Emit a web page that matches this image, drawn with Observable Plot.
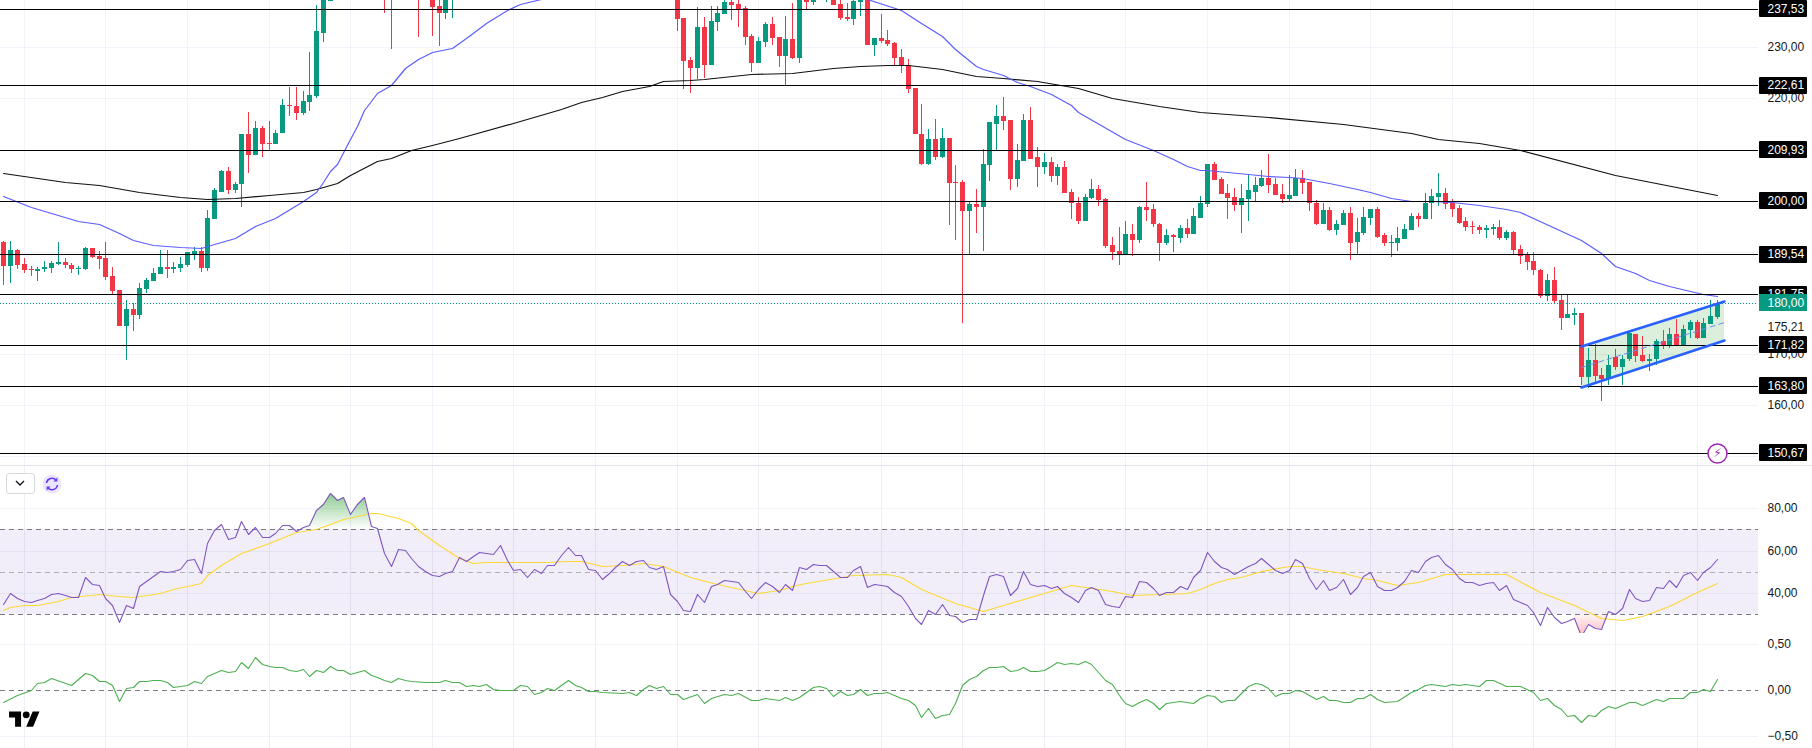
<!DOCTYPE html>
<html><head><meta charset="utf-8">
<style>
html,body{margin:0;padding:0;background:#fff;overflow:hidden}
#chart{position:relative;width:1812px;height:748px;overflow:hidden;background:#fff}
#chart svg.plot-svg,#chart>div>svg{display:block}
.overlay{position:absolute}
</style>
<script src="https://cdn.jsdelivr.net/npm/d3@7"></script>
<script src="https://cdn.jsdelivr.net/npm/@observablehq/plot@0.6"></script>
</head><body><div id="chart"></div>
<script>
// bar numbers that show in the window (the rest lie above the visible price range)
const barsA = d3.range(0,49), barsB = [56,57,58,61,63,64,65,66], barsC = d3.range(99,253);
const barIndex = [...barsA,...barsB,...barsC];

const open = [
192.0,187.2,190.3,187.7,186.6,186.2,186.6,186.9,187.7,188.1,
187.5,186.6,186.6,190.7,189.1,188.7,185.2,182.6,175.5,178.9,
177.6,182.8,184.2,185.6,187.1,186.7,186.9,187.5,189.5,190.1,
186.9,196.5,201.8,205.9,202.0,203.2,213.0,209.0,214.3,211.2,
211.0,213.2,218.8,218.6,217.1,219.4,220.4,232.9,239.0,
241,241,240,241,241,238.0,236.8,240,
240.0,235.8,227.6,225.9,233.9,226.5,234.9,236.6,238.8,238.4,
237.6,232.3,227.0,231.1,234.5,232.1,228.4,231.7,228.0,239.6,
238.8,240.0,239.6,240.2,238.4,236.0,235.6,238.8,240.0,230.4,
231.9,231.5,230.8,228.2,226.5,222.0,213.1,207.1,212.0,208.6,
212.2,203.6,203.6,197.9,199.3,198.7,206.9,215.1,216.5,215.7,
204.2,207.7,215.7,208.5,206.5,207.5,204.9,206.5,201.8,199.6,
196.1,200.6,202.2,200.4,191.4,190.1,189.5,193.4,192.4,198.7,
198.3,195.5,191.8,193.2,192.8,194.6,193.4,196.7,199.3,207.1,
204.2,201.6,200.8,199.1,200.4,201.8,202.8,204.5,203.2,201.4,
200.4,201.0,204.5,203.6,199.6,195.5,198.1,194.2,195.2,197.5,
192.0,193.6,196.7,198.3,193.2,191.8,191.8,192.6,194.2,197.1,
196.5,199.5,200.8,201.6,199.5,198.5,196.0,195.0,194.8,194.2,
194.4,194.8,192.8,193.8,190.5,189.3,188.3,186.4,181.3,184.4,
180.5,177.0,177.6,178.1,165.6,168.8,166.0,165.2,169.5,167.4,
169.0,174.0,169.9,168.6,169.0,172.5,171.7,174.0,171.5,174.8,
176.2,173.2,175.8,177.2];
const high = [
192.2,192.2,190.5,188.8,187.2,187.0,188.2,188.2,192.0,188.7,
187.9,187.2,191.0,190.8,190.1,192.0,187.1,182.6,180.5,180.0,
184.0,184.8,186.9,190.3,190.3,188.1,188.9,189.9,190.9,190.9,
198.1,202.4,206.1,206.5,203.6,213.1,217.3,215.5,214.7,215.5,
213.9,219.8,222.2,222.2,221.4,229.0,238.2,239.4,240.5,
241.5,241.5,241,241.5,241.5,240.5,241,241,
240.5,235.8,228.2,237.8,236.0,238.0,238.0,239.4,239.4,239.4,
238.0,232.7,232.1,234.9,236.0,232.1,236.2,238.6,240.5,240.0,
240.5,240.5,240.5,240.5,239.4,238.6,239.2,240.0,240.5,231.9,
236.6,233.3,231.1,229.6,227.8,222.0,219.0,214.1,215.9,214.3,
212.2,206.9,204.0,200.0,202.2,210.2,215.3,218.8,220.2,215.7,
211.0,216.9,218.4,210.6,209.4,208.5,207.1,207.7,202.2,200.8,
201.4,204.2,203.0,200.6,193.0,194.8,196.0,195.5,198.9,203.6,
199.3,195.7,194.4,193.4,195.2,196.5,198.5,201.0,207.1,207.5,
204.7,203.2,202.4,203.2,205.1,204.7,206.1,209.2,204.5,203.2,
205.1,206.3,206.1,203.6,200.2,199.6,198.7,196.3,198.1,198.7,
196.7,198.7,198.3,198.7,193.6,193.2,194.8,195.5,197.5,197.5,
201.6,202.2,205.5,202.4,200.4,199.1,196.9,196.1,195.2,195.2,
195.5,196.3,194.2,194.0,191.4,189.9,189.9,186.6,185.6,187.1,
181.5,181.5,179.1,178.1,171.1,171.9,167.2,169.9,170.9,169.9,
174.4,174.0,173.6,170.1,173.0,174.8,175.2,176.8,175.6,176.6,
176.6,177.0,180.5,180.5];
const low = [
183.6,184.0,186.7,185.8,185.2,184.2,186.0,185.8,187.5,186.8,
185.8,185.4,186.4,188.7,186.7,184.5,181.7,175.5,168.9,174.6,
176.8,182.0,184.2,185.6,184.8,185.8,186.0,187.1,188.5,186.0,
186.2,196.5,201.8,201.4,201.6,198.7,205.5,209.0,208.6,210.0,
211.0,213.2,216.5,215.7,216.7,217.5,220.0,231.0,239.0,
236.8,229.6,239.2,232.1,232.3,230.2,235.6,235.8,
233.1,221.8,221.0,223.8,224.1,226.5,233.1,236.6,235.4,233.9,
230.4,225.1,226.9,230.0,230.4,226.1,222.7,227.8,227.0,237.4,
238.2,239.2,238.8,238.2,235.3,235.1,234.3,236.2,230.4,228.4,
230.8,230.2,226.5,224.9,221.0,213.0,206.9,206.9,207.9,208.4,
195.2,192.4,176.0,189.5,193.6,190.1,203.8,210.0,213.9,202.0,
202.6,207.7,208.2,202.6,205.3,203.6,203.0,201.6,196.5,195.4,
196.1,200.4,198.9,190.7,188.5,187.5,189.3,189.1,191.8,196.0,
194.8,188.3,191.4,189.9,191.8,192.8,193.4,196.7,198.7,204.0,
201.4,196.5,197.9,193.6,196.0,200.0,202.6,201.6,201.2,199.5,
200.0,201.0,201.4,197.9,195.2,195.5,194.0,193.2,195.2,188.5,
189.5,193.2,195.2,192.8,191.2,188.9,190.1,192.6,194.2,194.8,
196.5,196.5,198.9,198.3,196.9,195.4,194.0,193.4,193.4,192.8,
193.2,192.4,192.4,189.3,187.7,186.4,185.4,180.9,180.3,179.9,
174.8,177.0,175.6,164.0,163.3,164.2,160.9,164.0,166.8,163.9,
168.6,168.4,168.4,166.6,167.8,170.9,171.1,171.5,171.5,173.2,
173.0,173.2,175.8,176.8];
const close = [
187.2,190.3,187.5,186.4,186.4,186.7,187.1,187.9,188.1,187.4,
186.6,186.9,190.7,189.0,188.6,185.0,182.4,175.5,178.9,177.6,
183.0,184.4,185.8,187.1,186.7,187.1,187.7,189.9,190.1,186.9,
196.7,202.0,205.9,202.0,203.2,213.0,209.0,214.3,211.0,211.0,
213.3,218.8,218.6,217.1,219.6,220.6,233.1,239.2,240.0,
240.5,240.5,240.5,240.5,237.8,236.8,240.5,240.5,
235.6,227.4,225.9,233.9,226.5,235.1,236.8,238.8,238.2,237.4,
232.1,227.0,231.3,234.5,231.9,228.4,231.7,228.0,240.0,238.8,
240.0,239.2,240.0,238.2,235.8,235.6,239.0,239.6,230.4,231.9,
231.3,230.6,228.0,226.3,221.8,213.0,207.1,212.0,208.6,212.2,
203.4,203.4,197.9,199.3,198.7,207.1,215.3,216.5,215.5,204.2,
207.9,215.7,208.2,206.5,207.5,204.9,206.5,201.6,199.5,196.1,
200.8,202.2,200.2,191.2,189.9,189.5,193.4,192.4,198.7,198.1,
195.4,191.8,193.2,193.0,194.6,193.4,197.1,199.5,207.1,204.0,
201.4,200.6,199.1,200.6,202.0,203.0,204.5,203.0,201.2,200.4,
201.2,204.5,203.4,199.5,195.5,198.1,194.2,195.4,197.5,191.8,
193.8,196.9,198.3,193.0,191.8,192.0,192.8,194.4,197.1,196.5,
199.6,201.0,201.6,199.3,198.3,195.7,194.8,194.8,194.2,194.6,
194.8,192.8,193.8,190.3,189.1,188.1,186.4,181.3,184.4,180.3,
177.0,177.8,178.1,165.6,168.8,165.8,165.2,167.8,167.4,169.1,
174.2,169.7,168.6,169.1,172.5,171.7,174.0,171.5,175.0,176.2,
173.2,176.0,177.4,180.0];

const ma50Index = [0,4,11,14,17,19,22,26,29,31,34,37,40,44,46,47,48,49,51,52,53,55,57,59,61,63,66,68,71,74,76,79,100,127,132,135,138,140,143,144,147,149,151,154,157,158,165,169,172,174,176,177,180,183,186,189,191,195,199,201,204,207,210,213,217,221,223,232,235,237,240,242,245,248,250,252];
const ma50 = [200.9,198.7,196.1,195.4,193.7,192.3,191.4,191.0,190.8,191.6,192.7,195.0,196.7,199.9,201.7,203.6,205.8,207.1,212.0,214.6,217.8,221.1,222.7,225.9,227.8,229.0,229.8,231.9,234.7,237.4,238.4,239.4,243,239.4,237.4,234.8,232.2,229.6,226.4,225.7,224.6,223.2,222.4,220.8,218.8,217.3,212.0,210.0,208.2,206.8,206.1,206.1,205.6,205.2,204.9,204.6,204.5,203.4,202.2,201.7,200.6,200.0,199.9,199.7,199.2,198.4,197.8,192.4,189.7,187.3,185.9,184.5,183.3,182.3,181.8,181.4];
const ma200Index = [0,9,14,20,26,30,34,39,44,46,49,51,55,57,60,63,67,75,82,85,88,91,95,97,101,103,110,116,122,126,130,133,138,143,147,152,158,163,170,176,186,197,207,211,217,223,237,252];
const ma200 = [205.5,203.7,203.0,201.7,200.8,200.4,200.6,201.1,201.7,202.3,203.5,205.1,207.7,208.4,210.0,210.9,212.3,215.2,218.0,219.3,220.3,221.4,222.5,223.5,223.7,223.8,224.7,225.0,225.9,226.4,226.6,226.5,225.7,224.4,224.0,223.4,222.1,220.1,218.6,217.4,216.3,215.0,213.3,212.0,211.2,210.0,205.0,201.2];

const levels = [237.53,222.61,209.93,200.00,189.54,181.75,171.82,163.80,150.67];
const lastPrice = 180.00;
const priceTicks = [230,220,170,160];
const gridPrices = [150,160,170,180,190,200,210,220,230];
const indicatorPrice = 175.21;
const timeGrid = [3,15,27,39,51,63,75,87,99,111,129,141,153,165,177,189,201,213,225,237,249];

const channelX = [232,253];
const channelUpper = [171.5,180.4];
const channelLower = [163.5,172.7];
const channelMid = [167.5,176.3];

const rsi = [
34.9,40.1,37.5,36.0,35.8,36.7,37.5,39.3,39.9,38.8,37.9,38.0,47.5,44.3,43.5,37.5,34.1,26.2,34.1,32.8,
43.2,45.4,47.8,50.1,50.0,50.3,51.2,55.6,56.0,49.3,63.8,69.5,72.5,65.4,66.4,73.8,67.8,71.2,66.5,66.4,
68.2,72.0,71.9,69.4,71.1,72.0,79.3,82.1,87.0,83.7,85.3,77.4,82.1,85.1,71.4,70.6,58.8,52.5,60.7,60.1,
56.3,52.5,50.3,48.4,47.8,49.3,50.1,56.9,55.0,57.2,59.3,58.8,58.3,62.6,55.6,50.8,51.1,47.5,51.2,49.2,
53.4,53.1,58.0,61.9,58.0,57.9,51.1,50.8,46.5,49.3,52.2,55.2,53.3,55.0,55.5,52.2,51.1,52.5,39.6,36.0,
32.0,31.2,39.4,35.5,43.0,44.3,46.0,45.6,45.1,40.7,37.7,41.9,45.1,43.4,40.5,44.0,41.3,52.2,51.2,53.6,
53.1,53.1,50.3,47.5,47.5,50.9,52.5,42.6,44.2,43.8,43.0,40.4,38.6,33.6,27.9,25.1,31.9,30.1,34.5,29.5,
29.2,26.2,27.8,27.8,39.1,47.9,48.9,48.2,39.0,42.4,50.1,44.3,43.2,43.8,42.1,43.4,39.9,38.2,35.8,41.5,
42.9,41.5,34.5,33.6,33.3,38.6,38.0,45.6,44.9,42.3,39.1,40.5,40.4,43.0,41.9,47.3,50.8,59.4,55.2,52.2,
51.2,49.0,50.6,52.8,53.9,56.4,53.6,50.6,49.5,50.6,56.1,53.9,47.0,41.9,45.9,41.2,42.7,46.5,39.4,42.6,
47.8,49.7,43.0,41.5,41.3,42.6,45.6,50.8,50.0,55.0,56.9,58.0,53.6,51.4,47.0,45.3,44.9,43.8,44.5,45.1,
41.5,43.7,37.2,35.6,34.1,31.1,24.9,33.1,28.6,25.6,26.7,27.9,19.4,25.3,23.5,22.9,31.4,30.0,33.0,41.8,
37.4,36.3,36.7,42.9,42.3,45.9,42.7,48.4,49.8,45.9,50.0,52.0,56.1];
const rsiMaIndex = [0,1,3,5,8,10,14,17,19,23,25,29,30,32,35,39,43,46,48,50,54,55,58,60,61,64,67,69,71,75,80,83,85,88,91,94,97,101,105,111,114,116,118,125,130,132,135,140,144,147,151,157,163,166,174,176,178,180,182,185,189,191,193,197,200,202,205,208,212,217,221,226,231,235,238,241,245,249,252];
const rsiMa = [32.0,33.3,34.1,34.4,36.0,37.9,39.6,38.3,38.0,39.9,41.9,44.6,48.6,53.1,58.8,63.8,69.0,70.1,72.7,74.9,77.7,77.7,75.3,73.0,69.8,62.4,56.4,54.1,54.4,54.4,54.6,55.2,54.9,52.7,53.1,54.1,52.8,47.3,44.2,39.9,41.2,43.0,44.6,48.6,48.9,47.5,41.8,35.2,31.6,34.4,37.9,43.5,41.0,39.1,39.9,41.8,44.6,46.5,47.3,50.1,52.6,52.8,51.4,49.3,47.0,46.2,43.5,44.9,49.0,48.9,48.7,40.4,34.4,27.9,27.1,29.2,33.6,40.2,44.6];
const rsiLevels = [70,50,30];
const rsiTicks = [80,60,40];

const rocIndex = [0,2,4,5,6,7,10,12,13,14,15,16,17,18,19,20,21,22,23,24,25,26,27,28,29,30,31,32,33,34,35,36,37,38,39,40,41,42,43,44,45,46,47,48,49,50,51,52,53,54,55,56,57,58,59,60,62,64,65,66,67,68,69,70,71,72,73,74,75,76,77,78,79,80,81,83,84,85,86,87,88,91,92,93,94,95,96,97,98,99,100,102,103,104,106,107,108,110,111,112,114,115,116,117,119,120,121,122,123,124,125,126,127,128,129,130,132,133,134,135,136,137,138,139,140,141,142,143,144,145,146,147,148,149,150,151,152,153,154,155,156,157,158,159,160,161,162,163,164,165,166,167,168,169,170,171,173,175,176,177,178,179,180,181,182,183,184,185,186,187,188,189,190,191,193,194,195,196,197,198,199,200,201,202,203,205,207,208,209,210,212,213,214,215,217,218,219,221,223,225,226,227,228,229,230,231,232,233,234,235,236,237,239,240,241,243,244,245,247,248,249,250,251,252];
const roc = [-0.13,-0.054,-0.004,0.076,0.087,0.134,0.054,0.185,0.163,0.094,0.094,0.051,-0.116,0.018,0.029,0.098,0.098,0.109,0.105,0.087,0.033,0.04,0.058,0.094,0.076,0.156,0.185,0.214,0.199,0.203,0.304,0.236,0.355,0.286,0.257,0.246,0.254,0.221,0.21,0.232,0.156,0.214,0.196,0.264,0.217,0.217,0.17,0.192,0.221,0.163,0.138,0.112,0.091,0.13,0.112,0.098,0.083,0.087,0.105,0.087,0.087,0.04,0.054,0.047,0.069,0.014,-0.004,0.004,-0.004,0.054,0.047,-0.04,-0.022,0.018,0.004,0.109,0.051,0.036,-0.007,-0.011,-0.025,-0.036,-0.018,-0.054,0.014,0.051,0.018,0.04,-0.043,-0.043,-0.094,-0.047,-0.145,-0.083,-0.04,-0.054,-0.029,-0.105,-0.109,-0.083,-0.112,-0.08,-0.112,-0.076,0.033,0.04,0.018,-0.069,-0.014,-0.054,-0.043,0.007,-0.058,-0.036,-0.036,-0.022,-0.087,-0.109,-0.167,-0.293,-0.199,-0.304,-0.268,-0.257,-0.141,0.051,0.123,0.149,0.217,0.246,0.254,0.264,0.207,0.221,0.246,0.21,0.21,0.221,0.257,0.304,0.283,0.293,0.283,0.315,0.286,0.196,0.105,0.069,-0.058,-0.141,-0.178,-0.13,-0.098,-0.141,-0.207,-0.138,-0.123,-0.141,-0.091,-0.054,-0.062,-0.127,-0.109,-0.109,-0.033,0.04,0.076,0.069,0.022,-0.062,-0.033,-0.033,-0.004,-0.007,-0.094,-0.069,-0.105,-0.105,-0.134,-0.13,-0.083,-0.083,-0.043,-0.094,-0.13,-0.12,-0.018,0.007,0.054,0.062,0.047,0.069,0.051,0.065,0.04,0.109,0.109,0.04,0.04,-0.022,-0.105,-0.091,-0.159,-0.21,-0.286,-0.275,-0.351,-0.275,-0.286,-0.214,-0.174,-0.196,-0.127,-0.13,-0.167,-0.101,-0.116,-0.091,-0.091,-0.025,-0.025,0.014,-0.011,0.12];
const rocTicks = [0.5,0,-0.5];

// ---- shared layout
const W = 1812;
const xScale = {domain:[-0.5,265.97], range:[0,W], round:true, axis:null};
const gridEnd = 258, labelX = 259.3, boxL = 258.2, boxR = 265.2;
const FONT = "Liberation Sans, Arial, sans-serif";
const UP = "#089981", DOWN = "#f23645", GRID = "#f0f3fa", VGRID="#eeeef5", SEP = "#e0e3eb", DASH = "#787b86";
const comma = v => v.toFixed(2).replace(".",",").replace("-","\u2212");
const pts = (ix,vs) => ix.map((i,k)=>({i,v:vs[k]}));

const bars = barIndex.map((i,k)=>({i,o:open[k],h:high[k],l:low[k],c:close[k]}));
const ups = bars.filter(d=>d.c>=d.o), downs = bars.filter(d=>d.c<d.o);
const channel = channelX.map((i,k)=>({i,u:channelUpper[k],l:channelLower[k],m:channelMid[k]}));
const rsiPts = rsi.map((v,i)=>({i,v}));
const tickText = (vals,fill="#131722") => Plot.text(vals,{x:()=>labelX,y:d=>d,text:comma,textAnchor:"start",fill,fontSize:12,fontFamily:FONT});

const main = Plot.plot({
  width:W,height:466,margin:0,x:xScale,
  y:{domain:[148.11,239.26],range:[466,0],round:true,axis:null},
  marks:[
    Plot.ruleY(gridPrices,{x1:()=>-0.5,x2:()=>gridEnd,stroke:GRID}),
    Plot.ruleX(timeGrid,{stroke:GRID}),
    Plot.ruleY([148.3],{stroke:SEP}),
    Plot.areaY(channel,{x:"i",y1:"l",y2:"u",fill:"#4caf50",fillOpacity:0.2,curve:"linear"}),
    Plot.ruleX(ups,{x:"i",y1:"l",y2:"h",stroke:UP,strokeWidth:1,clip:true}),
    Plot.ruleX(downs,{x:"i",y1:"l",y2:"h",stroke:DOWN,strokeWidth:1,clip:true}),
    Plot.ruleX(ups,{x:"i",y1:"o",y2:"c",stroke:UP,strokeWidth:5,clip:true}),
    Plot.ruleX(downs,{x:"i",y1:"o",y2:"c",stroke:DOWN,strokeWidth:5,clip:true}),
    Plot.line(pts(ma200Index,ma200),{x:"i",y:"v",stroke:"#111",strokeWidth:1.2,clip:true}),
    Plot.line(pts(ma50Index,ma50),{x:"i",y:"v",stroke:"#5c5cff",strokeWidth:1.2,clip:true}),
    Plot.ruleY(levels,{x1:()=>-0.5,x2:()=>gridEnd,stroke:"#000",strokeWidth:1}),
    Plot.ruleY([lastPrice],{x1:()=>-0.5,x2:()=>gridEnd,stroke:UP,strokeWidth:1,strokeDasharray:"1 2"}),
    Plot.line(channel,{x:"i",y:"m",stroke:"#6a8ff5",strokeWidth:1,strokeDasharray:"5 4"}),
    Plot.line(channel,{x:"i",y:"u",stroke:"#2962ff",strokeWidth:2.6}),
    Plot.line(channel,{x:"i",y:"l",stroke:"#2962ff",strokeWidth:2.6}),
    Plot.dot([{i:252,v:150.67}],{x:"i",y:"v",r:9.5,fill:"#fff",stroke:"#9c27b0",strokeWidth:1.5}),
    Plot.text([{i:252,v:150.67}],{x:"i",y:"v",text:()=>"\u26A1",fill:"#9c27b0",fontSize:12,fontFamily:"DejaVu Sans"}),
    tickText(priceTicks.map(d=>d)),
    tickText([indicatorPrice]),
    Plot.rect(levels,{x1:()=>boxL,x2:()=>boxR,y1:d=>d-1.66,y2:d=>d+1.66,fill:"#000",rx:1}),
    tickText(levels,"#fff"),
    Plot.rect([lastPrice],{x1:()=>boxL,x2:()=>boxR,y1:d=>d-1.66,y2:d=>d+1.66,fill:UP}),
    tickText([lastPrice],"#fff")
  ]
});

const grads = () => {
  const defs = d3.create("svg:defs");
  const g = defs.append("linearGradient").attr("id","obGrad").attr("x1",0).attr("y1",0).attr("x2",0).attr("y2",1);
  g.append("stop").attr("offset","0%").attr("stop-color","#4caf50").attr("stop-opacity",0.65);
  g.append("stop").attr("offset","100%").attr("stop-color","#4caf50").attr("stop-opacity",0);
  const r = defs.append("linearGradient").attr("id","osGrad").attr("x1",0).attr("y1",0).attr("x2",0).attr("y2",1);
  r.append("stop").attr("offset","0%").attr("stop-color","#f23645").attr("stop-opacity",0.05);
  r.append("stop").attr("offset","100%").attr("stop-color","#f23645").attr("stop-opacity",0.35);
  return defs.node();
};
const rsiPane = Plot.plot({
  width:W,height:167,margin:0,x:xScale,
  y:{domain:[21,100],range:[167,0],round:true,axis:null},
  marks:[
    grads,
    Plot.ruleY([80,60,40],{x1:()=>-0.5,x2:()=>gridEnd,stroke:GRID}),
    Plot.ruleX(timeGrid,{stroke:VGRID}),
    Plot.rect([0],{x1:()=>-0.5,x2:()=>gridEnd,y1:()=>30,y2:()=>70,fill:"#7e57c2",fillOpacity:0.1}),
    Plot.ruleY([70,30],{x1:()=>-0.5,x2:()=>gridEnd,stroke:DASH,strokeDasharray:"5 4"}),
    Plot.ruleY([50],{x1:()=>-0.5,x2:()=>gridEnd,stroke:DASH,strokeOpacity:0.55,strokeDasharray:"5 4"}),
    Plot.areaY(rsiPts.filter(d=>d.i>=44&&d.i<=54),{x:"i",y1:()=>70,y2:d=>Math.max(d.v,70),fill:"url(#obGrad)",curve:"linear"}),
    Plot.areaY(rsiPts.filter(d=>d.i>=231&&d.i<=236),{x:"i",y1:()=>30,y2:d=>Math.min(d.v,30),fill:"url(#osGrad)",curve:"linear",clip:true}),
    Plot.line(pts(rsiMaIndex,rsiMa),{x:"i",y:"v",stroke:"#fdd835",strokeWidth:1.2,clip:true}),
    Plot.line(rsiPts,{x:"i",y:"v",stroke:"#7e57c2",strokeWidth:1.1,clip:true}),
    Plot.ruleY([21],{stroke:SEP}),
    tickText(rsiTicks)
  ]
});

const rocPane = Plot.plot({
  width:W,height:115,margin:0,x:xScale,
  y:{domain:[-0.627,0.617],range:[115,0],round:true,axis:null},
  marks:[
    Plot.ruleY([0.5,-0.5],{x1:()=>-0.5,x2:()=>gridEnd,stroke:GRID}),
    Plot.ruleX(timeGrid,{stroke:VGRID}),
    Plot.ruleY([0],{x1:()=>-0.5,x2:()=>gridEnd,stroke:DASH,strokeDasharray:"5 4"}),
    Plot.line(pts(rocIndex,roc),{x:"i",y:"v",stroke:"#4caf50",strokeWidth:1.1,clip:true}),
    tickText(rocTicks)
  ]
});

const root = document.getElementById("chart");
[main,rsiPane,rocPane].forEach(p=>{p.style.display="block";p.style.background="transparent";root.appendChild(p);});

// chart chrome: collapse button, refresh badge and the logo
root.insertAdjacentHTML("beforeend",`
<div class="overlay" style="left:6px;top:473px;width:27px;height:19px;border:1px solid #d6d8de;border-radius:3px;background:#fff"></div>
<svg class="overlay" style="left:14px;top:478px" width="12" height="10" viewBox="0 0 12 10"><path d="M2 3l4 4 4-4" fill="none" stroke="#131722" stroke-width="1.4"/></svg>
<svg class="overlay" style="left:42px;top:474px" width="20" height="20" viewBox="0 0 20 20"><circle cx="10" cy="10" r="9.5" fill="#ece6fc"/><path d="M4.5 9a5.6 5.6 0 0 1 9.8-2.8M15.5 11a5.6 5.6 0 0 1-9.8 2.8" fill="none" stroke="#6b3cf6" stroke-width="1.6"/><path d="M15.4 3.4v4h-4zM4.6 16.6v-4h4z" fill="#6b3cf6"/></svg>
<svg class="overlay" style="left:8.5px;top:707.5px" width="31" height="24" viewBox="0 0 36 28"><path d="M14 22H7V11H0V4h14v18zM28 22h-8l7.5-18h8L28 22z" fill="#000"/><circle cx="20" cy="8" r="4" fill="#000"/></svg>`);
</script></body></html>
